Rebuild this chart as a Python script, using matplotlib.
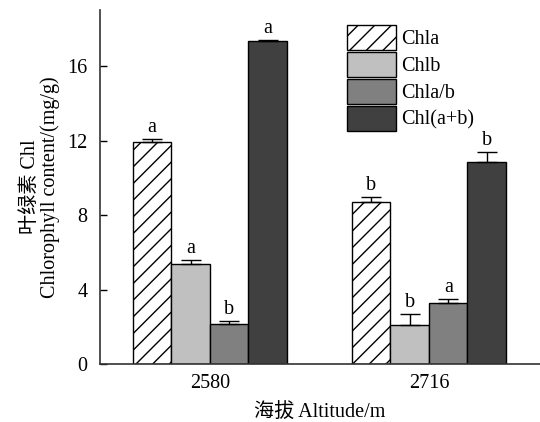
import numpy as np
import matplotlib
matplotlib.use("Agg")
import matplotlib.pyplot as plt

plt.rcParams['font.family'] = ['Liberation Serif', 'Noto Sans CJK SC']
plt.rcParams['hatch.linewidth'] = 1.0

# data
altitudes = ["2580", "2716"]
series = ["Chla", "Chlb", "Chla/b", "Chl(a+b)"]
values = {
    "Chla": [11.9, 8.7],
    "Chlb": [5.4, 2.1],
    "Chla/b": [2.17, 3.3],
    "Chl(a+b)": [17.33, 10.86],
}
errors = {
    "Chla": [0.18, 0.27],
    "Chlb": [0.18, 0.57],
    "Chla/b": [0.14, 0.18],
    "Chl(a+b)": [0.06, 0.52],
}
letters = {
    "Chla": ["a", "b"],
    "Chlb": ["a", "b"],
    "Chla/b": ["b", "a"],
    "Chl(a+b)": ["a", "b"],
}
colors = {"Chla": "white", "Chlb": "#c0c0c0", "Chla/b": "#808080", "Chl(a+b)": "#404040"}
hatches = {"Chla": "//", "Chlb": None, "Chla/b": None, "Chl(a+b)": None}

fs = 14.5

fig = plt.figure(figsize=(5.4, 4.22), dpi=100)
ax = fig.add_axes([0.185, 0.137, 0.815, 0.839])

x = np.arange(len(altitudes))
width = 0.176
for i, name in enumerate(series):
    pos = x + (i - 1.5) * width
    vals = np.array(values[name])
    errs = np.array(errors[name])
    ax.bar(pos, vals, width, color=colors[name], edgecolor="black", linewidth=1.0,
           hatch=hatches[name], label=name, zorder=2)
    ax.errorbar(pos, vals, yerr=[np.zeros_like(errs), errs], fmt="none",
                ecolor="black", elinewidth=1.0, capsize=7, capthick=1.0, zorder=3)
    for p, v, e, s in zip(pos, vals, errs, letters[name]):
        ax.annotate(s, (p, v + e), xytext=(0, 1.5), textcoords="offset points",
                    ha="center", va="bottom", fontsize=fs)

ax.set_xlim(-0.502, 1.507)
ax.set_ylim(0, 19)
ax.set_yticks([0, 4, 8, 12, 16])
ax.set_xticks(x)
ax.set_xticklabels(altitudes)
ax.tick_params(axis="y", direction="in", length=5, width=1.0, labelsize=fs, pad=9)
ax.tick_params(axis="x", length=0, labelsize=fs, pad=7)

for side in ["top", "right"]:
    ax.spines[side].set_visible(False)
ax.spines["left"].set_linewidth(1.2)
ax.spines["bottom"].set_linewidth(1.2)
ax.spines["left"].set_color("#333333")
ax.spines["bottom"].set_color("#333333")

ax.set_ylabel("叶绿素 Chl\nChlorophyll content/(mg/g)", fontsize=fs, labelpad=5,
              linespacing=1.05)
ax.set_xlabel("海拔 Altitude/m", fontsize=fs, labelpad=7)

ax.legend(loc="upper left", bbox_to_anchor=(0.561, 0.958), frameon=False,
          fontsize=fs, handlelength=2.45, handleheight=1.5, labelspacing=0.12,
          handletextpad=0.25, borderpad=0, borderaxespad=0)

plt.savefig("out.png", dpi=100)
